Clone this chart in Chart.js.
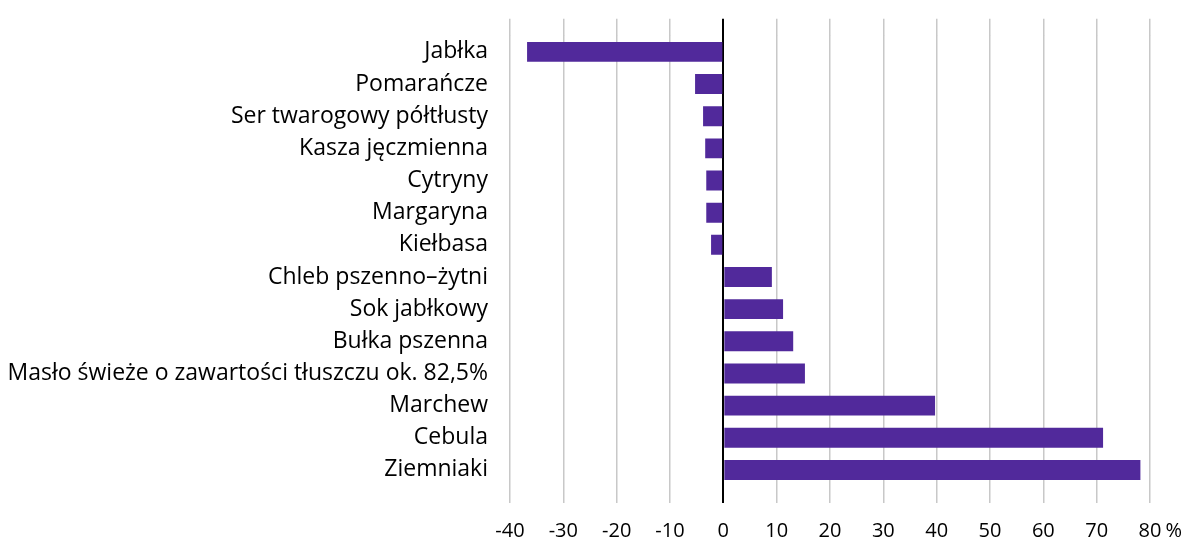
<!DOCTYPE html>
<html>
<head>
    <meta charset="utf-8">
    <title>Zmiana cen</title>
    <script src="https://cdn.jsdelivr.net/npm/chart.js@4.4.1/dist/chart.umd.min.js"></script>
    <style>
        body { margin: 0; background: #fff; }
        #chart-wrapper { position: relative; width: 1190px; height: 540px; }
    </style>
</head>
<body>
<div id="chart-wrapper">
    <canvas id="myChart"></canvas>
</div>
<script>

var products = [
    'Jabłka',
    'Pomarańcze',
    'Ser twarogowy półtłusty',
    'Kasza jęczmienna',
    'Cytryny',
    'Margaryna',
    'Kiełbasa',
    'Chleb pszenno–żytni',
    'Sok jabłkowy',
    'Bułka pszenna',
    'Masło świeże o zawartości tłuszczu ok. 82,5%',
    'Marchew',
    'Cebula',
    'Ziemniaki'
];
var changes = [-36.8, -5.3, -3.8, -3.4, -3.2, -3.2, -2.3, 9.1, 11.2, 13.1, 15.3, 39.7, 71.2, 78.2];
var x_min = -40;
var x_max = 80;
var x_step = 10;
var unit = '%';

const FONT = 'Open Sans';
const TICK_SIZE = 20;
const TICK_PAD = 16;
Chart.defaults.font.family = FONT;
Chart.defaults.color = '#000';

function grid_color(c) {
    return c.tick && c.tick.value === 0 ? '#000' : '#c8c8c8';
}
function grid_width(c) {
    return c.tick && c.tick.value === 0 ? 2 : 1.5;
}

// "%" written right after the last tick label
const unitPlugin = {
    id: 'unit',
    afterDraw(chart) {
        const xs = chart.scales.x;
        const ctx = chart.ctx;
        const last = xs.ticks[xs.ticks.length - 1];
        ctx.save();
        ctx.font = TICK_SIZE + 'px ' + FONT;
        const w = ctx.measureText(String(last.value)).width;
        ctx.fillStyle = '#000';
        ctx.textBaseline = 'middle';
        ctx.textAlign = 'left';
        const y = xs.top + 17 + TICK_PAD + TICK_SIZE * 1.2 / 2;
        ctx.fillText(unit, xs.getPixelForValue(last.value) + w / 2 + 4, y);
        ctx.restore();
    }
};

const ctx = document.getElementById('myChart').getContext('2d');
var myChart = new Chart(ctx, {
    type: 'bar',
    data: {
        labels: products,
        datasets: [{
            data: changes,
            backgroundColor: '#51299b',
            barPercentage: 0.62,
            categoryPercentage: 1
        }]
    },
    options: {
        indexAxis: 'y',
        responsive: true,
        maintainAspectRatio: false,
        animation: false,
        layout: { padding: { top: 12, right: 40, left: 0, bottom: 0 } },
        plugins: {
            legend: { display: false },
            tooltip: { enabled: false }
        },
        scales: {
            x: {
                min: x_min,
                max: x_max,
                border: { display: false },
                grid: { color: grid_color, lineWidth: grid_width, tickLength: 17 },
                ticks: { stepSize: x_step, padding: TICK_PAD, font: { size: TICK_SIZE } },
                afterFit: function (scale) { scale.height = 54; }
            },
            x2: {
                position: 'top',
                min: x_min,
                max: x_max,
                border: { display: false },
                grid: { color: grid_color, lineWidth: grid_width, tickLength: 17, drawOnChartArea: false },
                ticks: { stepSize: x_step, display: false }
            },
            y: {
                border: { display: false },
                grid: { display: false, drawTicks: false },
                ticks: { padding: 22, font: { size: 23 } },
                afterFit: function (scale) { scale.width = 510; }
            }
        }
    },
    plugins: [unitPlugin]
});

</script>
</body>
</html>
